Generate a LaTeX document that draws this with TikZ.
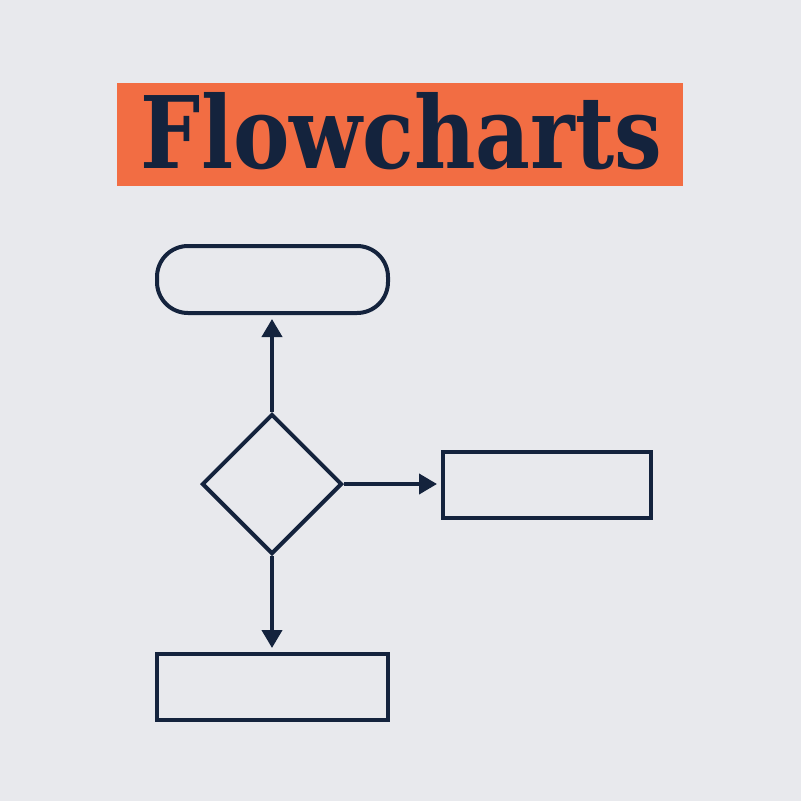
\documentclass[tikz,border=0pt]{standalone}
\usepackage{fontspec}
\setmainfont{DejaVu Serif}
\usetikzlibrary{shapes.geometric,arrows.meta}
\definecolor{bg}{HTML}{E8E9ED}
\definecolor{org}{HTML}{F26D43}
\definecolor{navy}{HTML}{14233D}
\begin{document}
\begin{tikzpicture}[x=1pt,y=-1pt,
  shp/.style={draw=navy,line width=4pt,inner sep=0pt},
  conn/.style={draw=navy,line width=4pt,-{Triangle[width=20pt,length=18pt]},shorten >=4pt}]
\fill[bg] (0,0) rectangle (801,801);
\useasboundingbox (0,0) rectangle (801,801);
\node[fill=org,minimum width=566pt,minimum height=103pt,inner sep=0pt] (title) at (400,134.5) {};
\node[text=navy,inner sep=0pt,anchor=base] (ttext) at (401.5,168) {\resizebox{521pt}{76pt}{\bfseries Flowcharts}};
\node[shp,rounded corners=31pt,minimum width=231pt,minimum height=67pt] (term) at (272.5,279.5) {};
\node[shp,diamond,minimum width=140pt,minimum height=140pt] (dec) at (272,484) {};
\node[shp,minimum width=208pt,minimum height=66pt] (right) at (547,485) {};
\node[shp,minimum width=231pt,minimum height=66pt] (bottom) at (272.5,687) {};
\draw[conn] (dec.north) -- (dec.north |- term.south);
\draw[conn] (dec.east) -- (right.west |- dec.east);
\draw[conn] (dec.south) -- (dec.south |- bottom.north);
\end{tikzpicture}
\end{document}
